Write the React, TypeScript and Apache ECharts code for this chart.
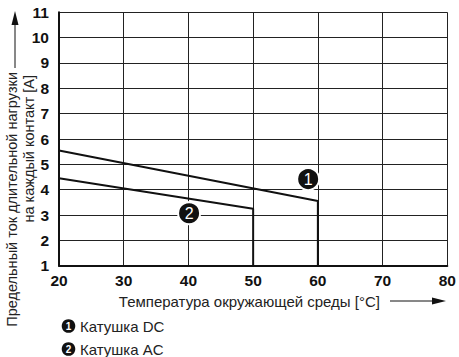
import React, { useEffect, useRef } from "react";
import * as echarts from "echarts";

const xTicks = [20, 30, 40, 50, 60, 70, 80];
const dcCurve: [number, number][] = [[20, 5.55], [60, 3.55], [60, 1]];
const acCurve: [number, number][] = [[20, 4.45], [50, 3.25], [50, 1]];
const markerPoints: [number, number, string][] = [[58.5, 4.42, "1"], [40.1, 3.07, "2"]];
const legendLabels = ["Катушка DC", "Катушка AC"];
const legendNumbers = ["1", "2"];
const yNameLines = ["Предельный ток длительной нагрузки", "на каждый контакт [A]"];
const xName = "Температура окружающей среды [°C]";

const FONT = "'Liberation Sans', Arial, Helvetica, sans-serif";

export default function App() {
  const ref = useRef<HTMLDivElement>(null);
  useEffect(() => {
    if (!ref.current) return;
    const chart = echarts.init(ref.current, null, { renderer: "svg" });
    const legendGraphics: any[] = [];
    legendLabels.forEach((lab, i) => {
      const cy = 326 + i * 23;
      legendGraphics.push({
        type: "circle",
        shape: { cx: 68.5, cy, r: 6.8 },
        style: { fill: "#111" },
      });
      legendGraphics.push({
        type: "text",
        x: 68.5,
        y: cy + 0.5,
        style: {
          text: legendNumbers[i],
          fill: "#fff",
          font: `bold 10px ${FONT}`,
          align: "center",
          verticalAlign: "middle",
        },
      });
      legendGraphics.push({
        type: "text",
        x: 80,
        y: cy,
        style: {
          text: lab,
          fill: "#222",
          font: `15px ${FONT}`,
          align: "left",
          verticalAlign: "middle",
        },
      });
    });

    chart.setOption({
      animation: false,
      backgroundColor: "#fff",
      grid: { left: 59, right: 11.7, top: 12.3, bottom: 91.3, containLabel: false },
      xAxis: {
        type: "value",
        min: xTicks[0],
        max: xTicks[xTicks.length - 1],
        interval: 10,
        axisLine: { show: true, onZero: false, lineStyle: { color: "#111", width: 2 } },
        axisTick: { show: false },
        axisLabel: { color: "#111", fontWeight: "bold", fontSize: 15.5, fontFamily: FONT, margin: 7 },
        splitLine: { show: true, lineStyle: { color: "#222", width: 1 } },
      },
      yAxis: {
        type: "value",
        min: 1,
        max: 11,
        interval: 1,
        axisLine: { show: true, onZero: false, lineStyle: { color: "#111", width: 2 } },
        axisTick: { show: false },
        axisLabel: { color: "#111", fontWeight: "bold", fontSize: 15.5, fontFamily: FONT, margin: 10 },
        splitLine: { show: true, lineStyle: { color: "#222", width: 1 } },
      },
      series: [
        {
          type: "line",
          data: dcCurve,
          symbol: "none",
          lineStyle: { color: "#111", width: 2 },
          z: 3,
        },
        {
          type: "line",
          data: acCurve,
          symbol: "none",
          lineStyle: { color: "#111", width: 2 },
          z: 3,
        },
        {
          type: "scatter",
          data: markerPoints.map((p) => ({ value: [p[0], p[1]], name: p[2] })),
          symbol: "circle",
          symbolSize: 22,
          itemStyle: { color: "#111", borderColor: "#fff", borderWidth: 2, opacity: 1 },
          label: {
            show: true,
            position: "inside",
            formatter: (p: any) => p.name,
            color: "#fff",
            fontSize: 16,
            fontFamily: FONT,
          },
          z: 5,
        },
      ],
      graphic: [
        {
          type: "text",
          x: 12,
          y: 72,
          rotation: Math.PI / 2,
          style: {
            text: yNameLines[0],
            fill: "#222",
            font: `14.5px ${FONT}`,
            align: "right",
            verticalAlign: "middle",
          },
        },
        {
          type: "text",
          x: 28.5,
          y: 75,
          rotation: Math.PI / 2,
          style: {
            text: yNameLines[1],
            fill: "#222",
            font: `14.5px ${FONT}`,
            align: "right",
            verticalAlign: "middle",
          },
        },
        {
          type: "line",
          shape: { x1: 15, y1: 68, x2: 15, y2: 22 },
          style: { stroke: "#111", lineWidth: 1 },
        },
        {
          type: "polygon",
          shape: { points: [[15, 11], [11.5, 25], [18.5, 25]] },
          style: { fill: "#111" },
        },
        {
          type: "text",
          x: 380,
          y: 301,
          style: {
            text: xName,
            fill: "#222",
            font: `15px ${FONT}`,
            align: "right",
            verticalAlign: "middle",
          },
        },
        {
          type: "line",
          shape: { x1: 390, y1: 301, x2: 434, y2: 301 },
          style: { stroke: "#111", lineWidth: 1 },
        },
        {
          type: "polygon",
          shape: { points: [[446, 301], [432, 297.5], [432, 304.5]] },
          style: { fill: "#111" },
        },
        ...legendGraphics,
      ],
    });
    return () => chart.dispose();
  }, []);
  return (
    <div
      ref={ref}
      style={{ position: "fixed", left: 0, top: 0, width: 459, height: 357, background: "#fff" }}
    />
  );
}
